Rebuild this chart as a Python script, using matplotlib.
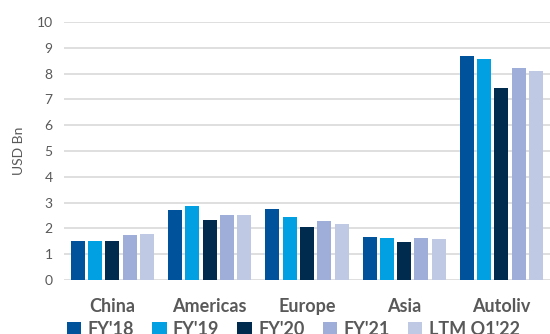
import matplotlib
matplotlib.use("Agg")
import matplotlib.pyplot as plt
import numpy as np

regions = ["China", "Americas", "Europe", "Asia", "Autoliv"]
series = ["FY'18", "FY'19", "FY'20", "FY'21", "LTM Q1'22"]
fy18 = [1.50, 2.71, 2.74, 1.65, 8.67]
fy19 = [1.50, 2.88, 2.44, 1.63, 8.55]
fy20 = [1.52, 2.33, 2.04, 1.47, 7.44]
fy21 = [1.74, 2.52, 2.27, 1.62, 8.22]
ltm = [1.78, 2.52, 2.16, 1.58, 8.11]
colors = ["#00539B", "#00A0E3", "#002B4F", "#9EAED8", "#BFC9E4"]

plt.rcParams["font.family"] = ["Lato", "DejaVu Sans"]
fig = plt.figure(figsize=(5.5, 3.34), dpi=100)
ax = fig.add_axes([0.116, 0.162, 0.884, 0.772])

x = np.arange(len(regions))
w, step = 0.144, 0.178
for i, (vals, lab, c) in enumerate(zip([fy18, fy19, fy20, fy21, ltm], series, colors)):
    ax.bar(x + (i - 2) * step, vals, width=w, color=c, label=lab, zorder=3)

ax.set_xlim(-0.5, 4.5)
ax.set_ylim(0, 10)
ax.set_yticks(range(0, 11))
ax.yaxis.grid(True, color="#D9D9D9", linewidth=1.2, zorder=0)
for s in ax.spines.values():
    s.set_visible(False)
ax.tick_params(axis="y", length=0, colors="#595959", labelsize=10, pad=8)
ax.tick_params(axis="x", length=0, colors="#595959", labelsize=13, pad=13)
ax.set_xticks(x)
ax.set_xticklabels(regions, fontweight="bold")
ax.set_ylabel("USD Bn", color="#595959", fontsize=10, labelpad=8)

fig.legend(loc="lower left", bbox_to_anchor=(0.092, -0.06), ncol=5, frameon=False,
           handlelength=0.8, handleheight=0.8, handletextpad=0.35, columnspacing=1.0,
           prop={"weight": "bold", "size": 13}, labelcolor="#595959")

fig.savefig("out.png", dpi=100)
